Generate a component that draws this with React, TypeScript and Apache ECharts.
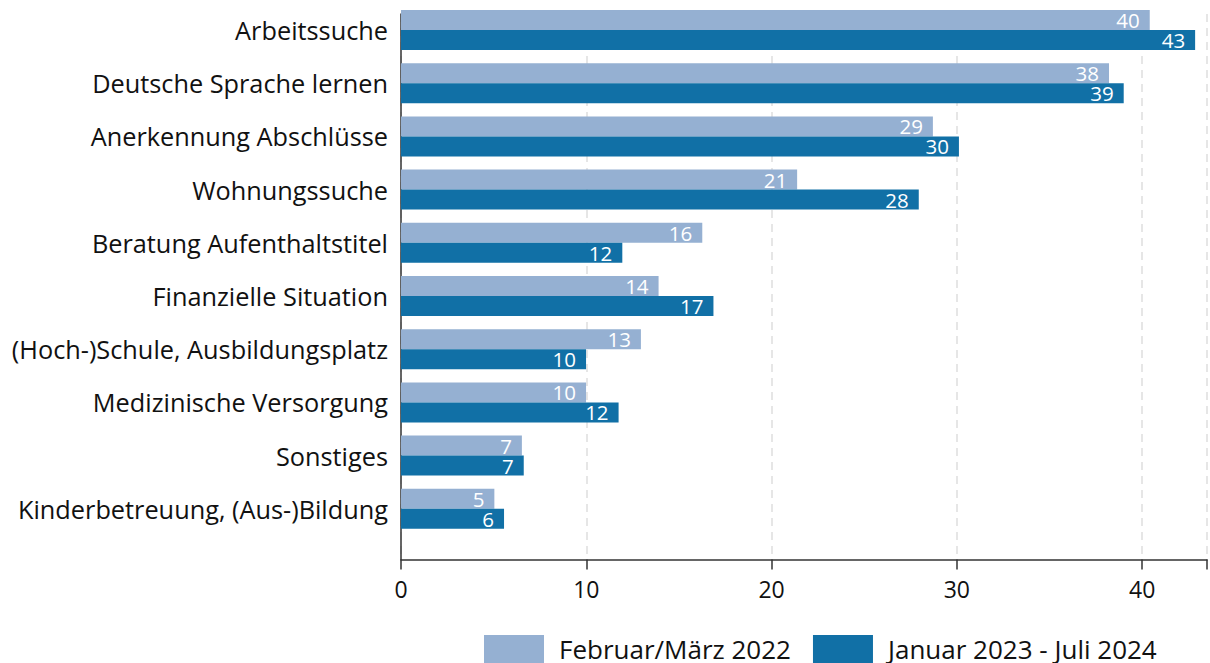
import React, { useEffect, useRef } from "react";
import * as echarts from "echarts";

const categories = [
  "Arbeitssuche",
  "Deutsche Sprache lernen",
  "Anerkennung Abschlüsse",
  "Wohnungssuche",
  "Beratung Aufenthaltstitel",
  "Finanzielle Situation",
  "(Hoch-)Schule, Ausbildungsplatz",
  "Medizinische Versorgung",
  "Sonstiges",
  "Kinderbetreuung, (Aus-)Bildung",
];

const seriesNames = ["Februar/März 2022", "Januar 2023 - Juli 2024"];
const values2022 = [40.26, 38.07, 28.6, 21.3, 16.2, 13.85, 12.9, 9.95, 6.5, 5.02];
const values2023 = [42.7, 38.86, 30.0, 27.84, 11.9, 16.8, 9.95, 11.7, 6.6, 5.54];
const xTicks = [0, 10, 20, 30, 40];

const FONT = "Open Sans";
const LIGHT = "#95B0D2";
const DARK = "#1170A6";
const X_MAX = 43.5;

export default function App() {
  const ref = useRef<HTMLDivElement>(null);
  useEffect(() => {
    if (!ref.current) return;
    const chart = echarts.init(ref.current, undefined, { renderer: "svg" });
    const label = {
      show: true,
      position: "insideRight" as const,
      distance: 10,
      color: "#ffffff",
      fontFamily: FONT,
      fontSize: 20.5,
      lineHeight: 18,
      formatter: (p: any) => String(Math.round(p.value)),
    };
    chart.setOption({
      animation: false,
      backgroundColor: "#ffffff",
      textStyle: { fontFamily: FONT },
      grid: [
        { left: 401, width: 809, top: 3.4, height: 532, containLabel: false },
        { left: 401, width: 809, top: 14, height: 545.5, containLabel: false },
      ],
      legend: {
        left: 479,
        top: 635,
        padding: [0, 5, 0, 5],
        itemWidth: 60,
        itemHeight: 28,
        itemGap: 22,
        icon: "rect",
        textStyle: {
          fontFamily: FONT,
          fontSize: 26,
          lineHeight: 24,
          color: "#111",
          padding: [0, 0, 0, 10],
        },
        data: seriesNames,
      },
      xAxis: [
        {
          gridIndex: 0,
          type: "value",
          min: 0,
          max: X_MAX,
          show: false,
        },
        {
          gridIndex: 1,
          type: "value",
          min: 0,
          max: X_MAX,
          interval: 10,
          axisLine: { show: true, lineStyle: { color: "#333", width: 1.5 } },
          axisTick: { show: true, length: 10, lineStyle: { color: "#333", width: 1.5 } },
          axisLabel: {
            fontFamily: FONT,
            fontSize: 23,
            color: "#111",
            margin: 18,
            formatter: (v: number) => (xTicks.includes(v) ? String(v) : ""),
          },
          splitLine: {
            show: true,
            lineStyle: { color: "#e6e6e6", width: 2, type: [8, 6] },
          },
        },
      ],
      yAxis: [
        {
          gridIndex: 0,
          type: "category",
          inverse: true,
          data: categories,
          axisLine: { show: false },
          axisTick: { show: false },
          axisLabel: {
            fontFamily: FONT,
            fontSize: 25.3,
            color: "#111",
            margin: 13,
          },
        },
        {
          gridIndex: 1,
          type: "value",
          min: 0,
          max: 1,
          axisLine: { show: true, lineStyle: { color: "#333", width: 1.5 } },
          axisTick: { show: false },
          axisLabel: { show: false },
          splitLine: { show: false },
        },
      ],
      series: [
        {
          name: seriesNames[0],
          type: "bar",
          xAxisIndex: 0,
          yAxisIndex: 0,
          data: values2022,
          barWidth: 20,
          barGap: "0%",
          itemStyle: { color: LIGHT },
          label,
        },
        {
          name: seriesNames[1],
          type: "bar",
          xAxisIndex: 0,
          yAxisIndex: 0,
          data: values2023,
          barWidth: 20,
          barGap: "0%",
          itemStyle: { color: DARK },
          label,
        },
      ],
    });
    return () => chart.dispose();
  }, []);
  return (
    <div
      ref={ref}
      style={{ position: "fixed", left: 0, top: 0, width: 1210, height: 663 }}
    />
  );
}
